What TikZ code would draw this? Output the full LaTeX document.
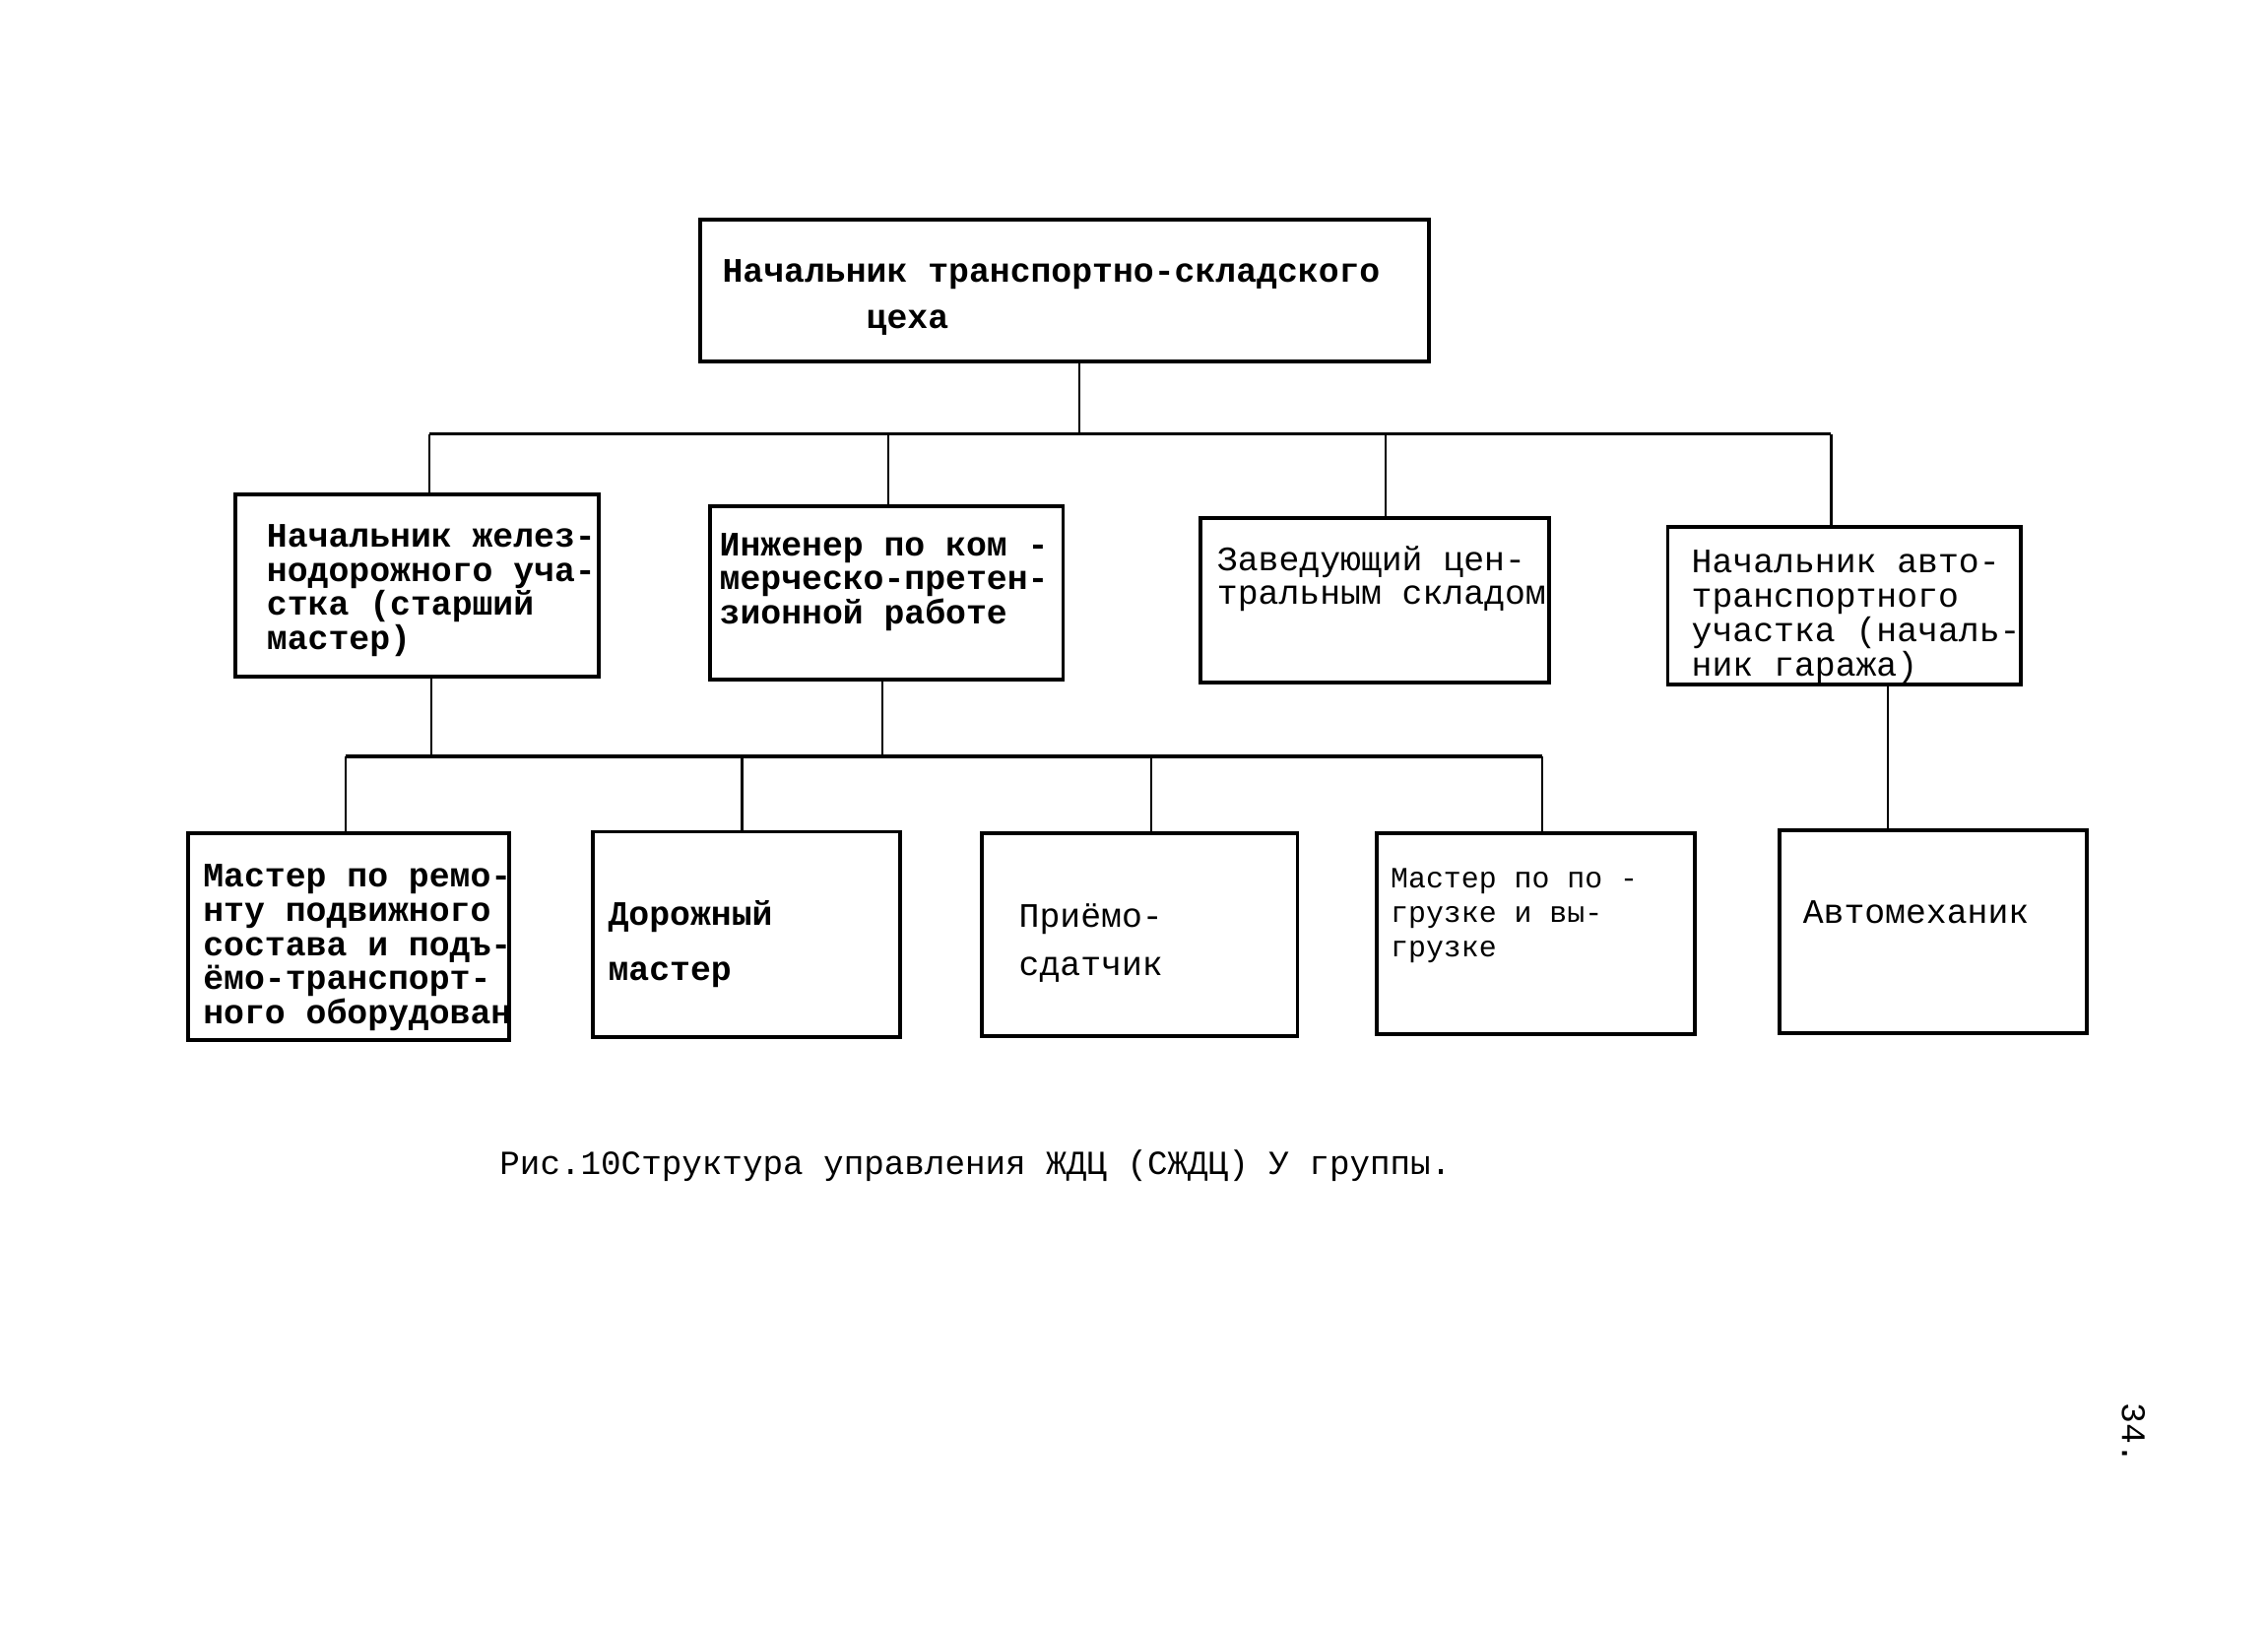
\documentclass[tikz,border=0pt]{standalone}
\usepackage{fontspec}
\newfontfamily\tw{Liberation Mono}
\usetikzlibrary{fit}
\begin{document}
\begin{tikzpicture}[x=0.014688cm,y=-0.014688cm,
  box/.style={draw, line width=1.1pt, inner sep=0pt},
  bus/.style={line width=1pt},
  conn/.style={line width=0.6pt},
  txt/.style={inner sep=0pt, anchor=north west, align=left, font=\tw\fontsize{9.9}{9.9}\selectfont},
  txtb/.style={txt, font=\tw\bfseries\fontsize{9.9}{9.9}\selectfont}]
\fill[white] (0,0) rectangle (1568,1126.1);
\useasboundingbox (0,0) rectangle (1568,1126.1);
% boxes
\node[box, fit={(484,152) (988,250)}] (top) {};
\node[box, fit={(163,342) (414,468)}] (b1) {};
\node[box, fit={(491,350) (735,470)}] (b2) {};
\node[box, fit={(830,358) (1071,472)}] (b3) {};
\node[box, fit={(1153,364) (1397,473)}] (b4) {};
\node[box, fit={(130,576) (352,719)}] (l1) {};
\node[box, fit={(410,575) (622,717)}] (l2) {};
\node[box, fit={(679,576) (897,716)}] (l3) {};
\node[box, fit={(952,576) (1172,715)}] (l4) {};
\node[box, fit={(1230,574) (1443,714)}] (l5) {};
% texts
\node[txtb] (ttop) at (499,179) {Начальник транспортно-складского\\[3.5pt]\hphantom{Начальн}цеха};
\node[txtb] (tb1) at (184,362) {Начальник желез-\\нодорожного уча-\\стка (старший\\мастер)};
\node[txtb] (tb2) at (497,368) {Инженер по ком -\\мерческо-претен-\\зионной работе};
\node[txt] (tb3) at (841,377) {Заведующий цен-\\тральным складом};
\node[txt] (tb4) at (1169,380) {Начальник авто-\\транспортного\\участка (началь-\\ник гаража)};
\node[txtb] (tl1) at (140,597) {Мастер по ремо-\\нту подвижного\\состава и подъ-\\ёмо-транспорт-\\ного оборудован};
\node[txtb] (tl2) at (420,622) {Дорожный\\[6.1pt]мастер};
\node[txt] (tl3) at (704,624) {Приёмо-\\[4.3pt]сдатчик};
\node[txt, font=\tw\fontsize{8.5}{10}\selectfont] (tl4) at (961,600) {Мастер по по -\\грузке и вы-\\грузке};
\node[txt] (tl5) at (1246,622) {Автомеханик};
% caption and page number
\node[inner sep=0pt, anchor=west, font=\tw\fontsize{9.75}{9.75}\selectfont] (cap) at (345,806) {Рис.10Структура управления ЖДЦ (СЖДЦ) У группы.};
\node[inner sep=0pt, rotate=-90, font=\tw\fontsize{9.9}{9.9}\selectfont] (pg) at (1475,991) {34.};
% upper connectors
\coordinate (j0) at (746,300);
\coordinate (d1) at (297,300);
\coordinate (d2) at (614,300);
\coordinate (d3) at (958,300);
\coordinate (d4) at (1266,300);
\draw[bus] (d1) -- (d4);
\draw[conn] (top.south -| j0) -- (j0);
\draw[conn] (d1) -- (d1 |- b1.north);
\draw[conn] (d2) -- (d2 |- b2.north);
\draw[conn] (d3) -- (d3 |- b3.north);
\draw[conn] (d4) -- (d4 |- b4.north);
% lower connectors
\coordinate (f1) at (298,523);
\coordinate (f2) at (610,523);
\coordinate (e1) at (239,523);
\coordinate (e2) at (513,523);
\coordinate (e3) at (796,523);
\coordinate (e4) at (1066,523);
\coordinate (g5) at (1305,523);
\draw[bus] (e1) -- (e4);
\draw[conn] (f1 |- b1.south) -- (f1);
\draw[conn] (f2 |- b2.south) -- (f2);
\draw[conn] (e1) -- (e1 |- l1.north);
\draw[conn] (e2) -- (e2 |- l2.north);
\draw[conn] (e3) -- (e3 |- l3.north);
\draw[conn] (e4) -- (e4 |- l4.north);
\draw[conn] (g5 |- b4.south) -- (g5 |- l5.north);
\end{tikzpicture}
\end{document}
